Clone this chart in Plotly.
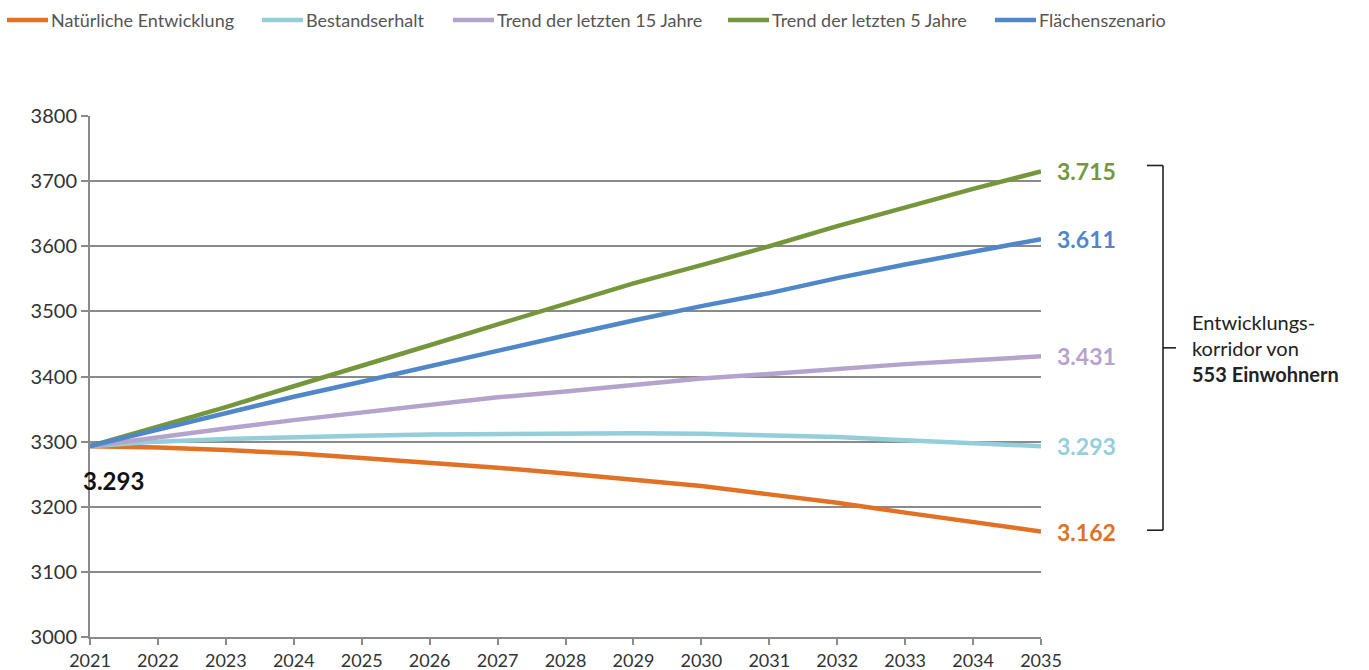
import plotly.graph_objects as go

# Population projections 2021-2035 for five scenarios
years = list(range(2021, 2036))

natuerlich = [3293, 3291, 3287, 3282, 3275, 3268, 3260, 3251, 3242, 3232, 3219, 3206, 3191, 3176, 3162]
bestand = [3293, 3300, 3304, 3307, 3309, 3311, 3312, 3313, 3313, 3312, 3310, 3307, 3302, 3298, 3293]
trend15 = [3293, 3307, 3320, 3333, 3345, 3357, 3368, 3377, 3387, 3397, 3404, 3412, 3419, 3425, 3431]
trend5 = [3293, 3323, 3353, 3385, 3416, 3448, 3480, 3511, 3543, 3571, 3600, 3631, 3660, 3688, 3715]
flaechen = [3293, 3318, 3343, 3369, 3392, 3416, 3440, 3463, 3486, 3508, 3528, 3551, 3572, 3591, 3611]

series = [
    ("Natürliche Entwicklung", natuerlich, "#E07125"),
    ("Bestandserhalt", bestand, "#93CEDA"),
    ("Trend der letzten 15 Jahre", trend15, "#B4A3CC"),
    ("Trend der letzten 5 Jahre", trend5, "#76963C"),
    ("Flächenszenario", flaechen, "#4F87C9"),
]

end_labels = ["3.162", "3.293", "3.431", "3.715", "3.611"]
start_label = "3.293"

FONT = "Lato"

# plot area in pixels
L, R, T, B = 90, 1041, 116, 637
W, H = 1369, 670

# legend layout: left edge of each key line (px), key length, row centre
LEG_X = [7, 262, 453, 728, 995]
LEG_LEN = 41
LEG_Y = 20


def px_x(px):
    return (px - L) / (R - L)


def px_y(py):
    return (B - py) / (B - T)


fig = go.Figure()
for name, vals, color in series:
    fig.add_trace(go.Scatter(
        x=years, y=vals, mode="lines", name=name,
        line=dict(color=color, width=4.5),
        hovertemplate=name + ": %{y}<extra>%{x}</extra>",
    ))

# legend row drawn as key lines and labels across the top
for (name, vals, color), lx in zip(series, LEG_X):
    fig.add_shape(
        type="line", xref="paper", yref="paper",
        x0=px_x(lx), x1=px_x(lx + LEG_LEN), y0=px_y(LEG_Y), y1=px_y(LEG_Y),
        line=dict(color=color, width=4.5),
    )
    fig.add_annotation(
        x=px_x(lx + LEG_LEN + 1), y=px_y(LEG_Y), xref="paper", yref="paper",
        text=name, showarrow=False, xanchor="left", yanchor="middle",
        font=dict(family=FONT, size=18, color="#555555"),
    )

# value labels at the end of each line
for (name, vals, color), lab in zip(series, end_labels):
    fig.add_annotation(
        x=years[-1], y=vals[-1], xref="x", yref="y",
        text=f"<b>{lab}</b>", showarrow=False,
        xanchor="left", yanchor="middle", xshift=14,
        font=dict(family=FONT, size=23, color=color),
    )

# starting value below the common start point
fig.add_annotation(
    x=years[0], y=natuerlich[0], xref="x", yref="y",
    text=f"<b>{start_label}</b>", showarrow=False,
    xanchor="left", yanchor="top", xshift=-9, yshift=-18,
    font=dict(family=FONT, size=24, color="#111111"),
)

# curly bracket spanning the range of scenario results
top_v = max(trend5[-1], flaechen[-1]) + 9
bot_v = min(natuerlich[-1], bestand[-1]) + 2
mid_v = (top_v + bot_v) / 2
bx = px_x(1163)
hook = 16 / (R - L)
tip = 13 / (R - L)
line_style = dict(color="#222222", width=1.6)
fig.add_shape(type="line", xref="paper", yref="y", x0=bx, x1=bx, y0=bot_v, y1=top_v, line=line_style)
fig.add_shape(type="line", xref="paper", yref="y", x0=bx - hook, x1=bx, y0=top_v, y1=top_v, line=line_style)
fig.add_shape(type="line", xref="paper", yref="y", x0=bx - hook, x1=bx, y0=bot_v, y1=bot_v, line=line_style)
fig.add_shape(type="line", xref="paper", yref="y", x0=bx, x1=bx + tip, y0=mid_v, y1=mid_v, line=line_style)

fig.add_annotation(
    x=px_x(1190), y=mid_v, xref="paper", yref="y",
    text="Entwicklungs-<br>korridor von<br><b>553 Einwohnern</b>",
    showarrow=False, xanchor="left", yanchor="middle", align="left",
    font=dict(family=FONT, size=20, color="#222222"),
)

fig.update_layout(
    width=W, height=H,
    margin=dict(l=L, r=W - R, t=T, b=H - B),
    paper_bgcolor="white", plot_bgcolor="white",
    font=dict(family=FONT, size=16, color="#333333"),
    showlegend=False,
    xaxis=dict(
        range=[2021, 2035], tickmode="array", tickvals=years,
        ticktext=[str(y) for y in years],
        showgrid=False, zeroline=False, automargin=False,
        showline=True, linecolor="#8a8a8a", linewidth=2,
        ticks="outside", ticklen=6, tickcolor="#8a8a8a", tickwidth=2,
        tickfont=dict(family=FONT, size=18, color="#333333"),
    ),
    yaxis=dict(
        range=[3000, 3800], tickmode="array",
        tickvals=[3000, 3100, 3200, 3300, 3400, 3500, 3600, 3700, 3800],
        showgrid=True, gridcolor="#8a8a8a", gridwidth=1.5,
        zeroline=False, automargin=False,
        showline=True, linecolor="#8a8a8a", linewidth=2,
        ticks="outside", ticklen=7, tickcolor="#8a8a8a", tickwidth=1.5,
        tickfont=dict(family=FONT, size=20, color="#333333"),
    ),
)

fig.write_html("out.html")
